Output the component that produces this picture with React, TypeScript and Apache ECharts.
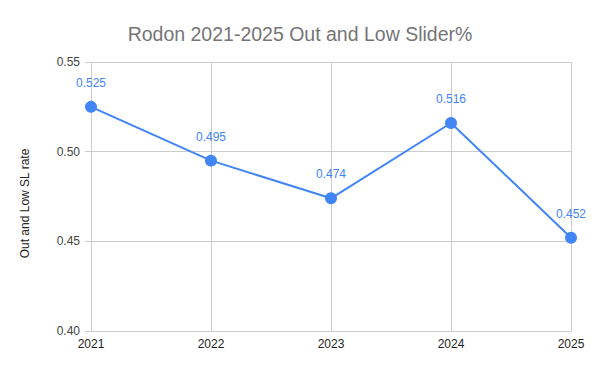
import React, { useEffect, useRef } from "react";
import * as echarts from "echarts";

const years = ["2021", "2022", "2023", "2024", "2025"];
const values = [0.525, 0.495, 0.474, 0.516, 0.452];
const titleText = "Rodon 2021-2025 Out and Low Slider%";
const yAxisName = "Out and Low SL rate";

export default function App() {
  const ref = useRef<HTMLDivElement>(null);
  useEffect(() => {
    if (!ref.current) return;
    const chart = echarts.init(ref.current, undefined, { renderer: "svg" });
    chart.setOption({
      animation: false,
      backgroundColor: "#ffffff",
      textStyle: { fontFamily: "Liberation Sans, Arial, sans-serif" },
      title: {
        text: titleText,
        left: "center",
        top: 19,
        textStyle: { color: "#757575", fontSize: 19.5, fontWeight: "normal", fontFamily: "Liberation Sans, Arial, sans-serif" },
      },
      grid: { left: 91, right: 29, top: 62, bottom: 40, containLabel: false },
      xAxis: {
        type: "category",
        data: years,
        boundaryGap: false,
        axisLine: { show: true, lineStyle: { color: "#cccccc" } },
        axisTick: { show: false },
        splitLine: { show: true, lineStyle: { color: "#cccccc" } },
        axisLabel: { color: "#222222", fontSize: 12, margin: 7 },
      },
      yAxis: {
        type: "value",
        min: 0.4,
        max: 0.55,
        interval: 0.05,
        name: yAxisName,
        nameLocation: "middle",
        nameGap: 60,
        nameTextStyle: { color: "#222222", fontSize: 12, padding: [0, 14, 0, 0] },
        axisLine: { show: false },
        axisTick: { show: true, length: 6, lineStyle: { color: "#cccccc" } },
        splitLine: { show: true, lineStyle: { color: "#cccccc" } },
        axisLabel: { color: "#444444", fontSize: 12, margin: 11, formatter: (v: number) => v.toFixed(2) },
      },
      series: [
        {
          type: "line",
          data: values,
          symbol: "circle",
          symbolSize: 12,
          lineStyle: { color: "#4285F4", width: 2 },
          itemStyle: { color: "#4285F4" },
          label: {
            show: true,
            position: "top",
            distance: 12,
            color: "#4285F4",
            fontSize: 12,
            formatter: (p: any) => String(p.value),
          },
        },
      ],
    });
    return () => chart.dispose();
  }, []);
  return <div ref={ref} style={{ position: "fixed", left: 0, top: 0, width: 600, height: 371 }} />;
}
